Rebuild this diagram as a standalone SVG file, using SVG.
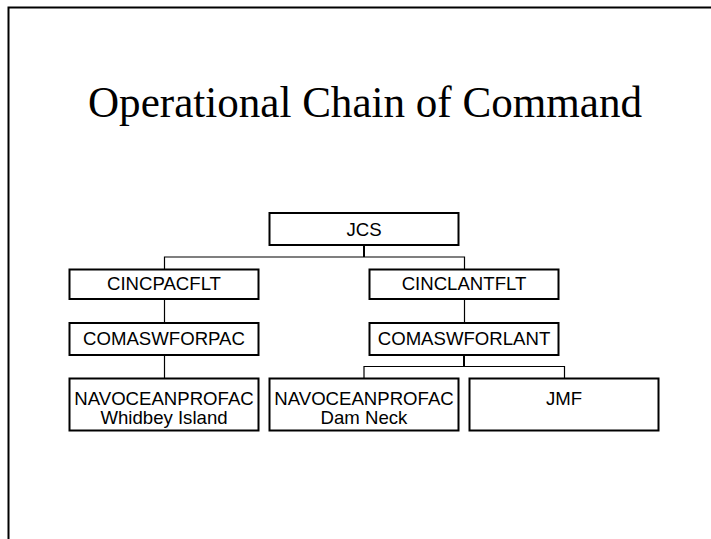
<svg xmlns="http://www.w3.org/2000/svg" width="711" height="539" viewBox="0 0 711 539">
<style>
.box{fill:#fff;stroke:#000;stroke-width:2}
.lbl{font-family:"Liberation Sans",Arial,sans-serif;font-size:18.6px;fill:#000;text-anchor:middle}
.title{font-family:"Liberation Serif","Times New Roman",serif;font-size:44px;fill:#000}
.thin{fill:none;stroke:#000;stroke-width:1.2}
.stem{fill:none;stroke:#000;stroke-width:2}
</style>
<rect width="711" height="539" fill="#fff"/>
<path d="M8.5,539 V7.5 H711" fill="none" stroke="#000" stroke-width="2"/>
<text class="title" x="88" y="117" textLength="554" lengthAdjust="spacingAndGlyphs">Operational Chain of Command</text>
<g id="connectors">
  <path class="stem" d="M364,245 V257"/>
  <path class="thin" d="M164.5,269.5 V257 H464.5 V269.5"/>
  <path class="thin" d="M164.5,299 V323"/>
  <path class="thin" d="M464.5,299 V323"/>
  <path class="thin" d="M164.5,355 V378.5"/>
  <path class="stem" d="M464,355 V366.5"/>
  <path class="thin" d="M364,378.5 V366.5 H564.5 V378.5"/>
</g>
<g id="jcs"><rect class="box" x="269.5" y="213" width="189" height="32"/><text class="lbl" x="364" y="235.5">JCS</text></g>
<g id="cincpacflt"><rect class="box" x="69.5" y="269.5" width="189" height="29.5"/><text class="lbl" x="164" y="290">CINCPACFLT</text></g>
<g id="cinclantflt"><rect class="box" x="369.5" y="269.5" width="189" height="29.5"/><text class="lbl" x="464" y="290">CINCLANTFLT</text></g>
<g id="comaswforpac"><rect class="box" x="69.5" y="323" width="189" height="32"/><text class="lbl" x="164" y="345">COMASWFORPAC</text></g>
<g id="comaswforlant"><rect class="box" x="369.5" y="323" width="189" height="32"/><text class="lbl" x="464" y="345">COMASWFORLANT</text></g>
<g id="navo-whidbey"><rect class="box" x="69.5" y="378.5" width="189" height="52"/><text class="lbl" x="164" y="404.5">NAVOCEANPROFAC</text><text class="lbl" x="164" y="423.5">Whidbey Island</text></g>
<g id="navo-damneck"><rect class="box" x="269.5" y="378.5" width="189" height="52"/><text class="lbl" x="364" y="404.5">NAVOCEANPROFAC</text><text class="lbl" x="364" y="423.5">Dam Neck</text></g>
<g id="jmf"><rect class="box" x="469.5" y="378.5" width="189" height="52"/><text class="lbl" x="564" y="404.5">JMF</text></g>
</svg>
